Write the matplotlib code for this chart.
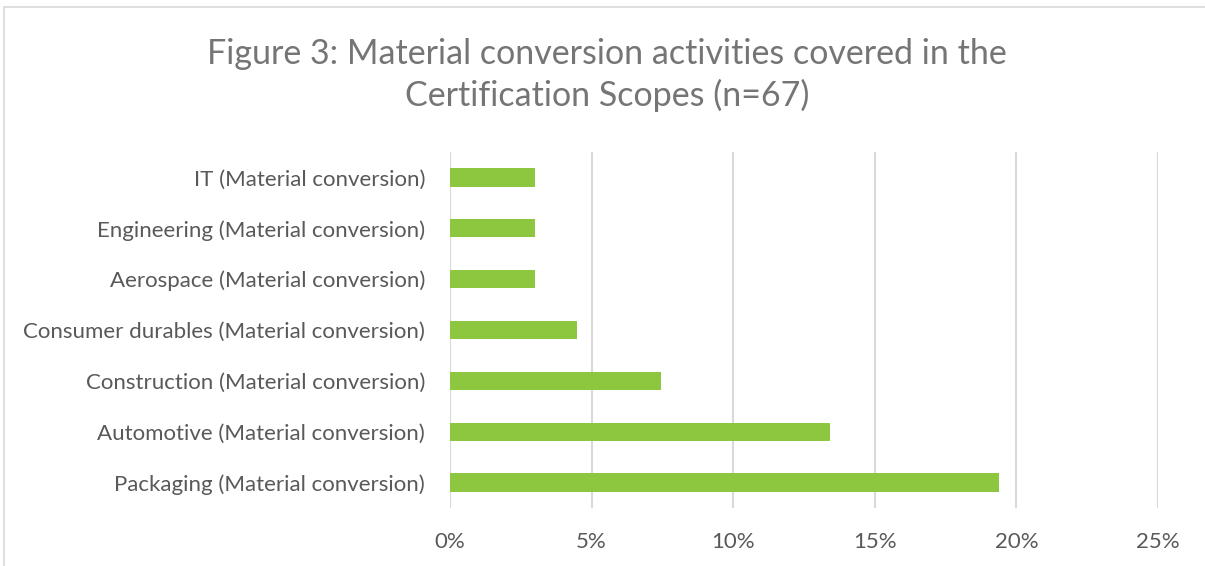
import matplotlib.pyplot as plt
from matplotlib.patches import Rectangle
from matplotlib.ticker import PercentFormatter

plt.rcParams['font.family'] = ['Lato', 'DejaVu Sans']

categories = ['Packaging (Material conversion)', 'Automotive (Material conversion)',
              'Construction (Material conversion)', 'Consumer durables (Material conversion)',
              'Aerospace (Material conversion)', 'Engineering (Material conversion)',
              'IT (Material conversion)']
counts = [13, 9, 5, 3, 2, 2, 2]
n_total = 67
shares = [c / n_total for c in counts]

fig = plt.figure(figsize=[12.05, 5.66], dpi=100)
ax = fig.add_axes([450 / 1205, 1 - 508 / 566, 708 / 1205, 356 / 566])

# chart frame
fig.patches.append(Rectangle((4 / 1205, -0.01), 1.2, 1 - 7 / 566 + 0.01, transform=fig.transFigure,
                             fill=False, edgecolor='#d9d9d9', linewidth=1.2))

ax.barh(range(len(categories)), shares, height=0.36, color='#8dc63f', zorder=3)
ax.set_yticks(range(len(categories)))
ax.set_yticklabels(categories)
ax.set_ylim(-0.5, len(categories) - 0.5)
ax.set_xlim(0, 0.25)
ax.set_xticks([0, 0.05, 0.10, 0.15, 0.20, 0.25])
ax.xaxis.set_major_formatter(PercentFormatter(1.0, decimals=0))
ax.grid(axis='x', color='#d9d9d9', linewidth=1.5, zorder=0)
for s in ax.spines.values():
    s.set_visible(False)
ax.tick_params(axis='both', length=0, labelsize=16, colors='#595959')
ax.tick_params(axis='y', pad=18)
ax.tick_params(axis='x', pad=17)

fig.text(607 / 1205, 1 - 75 / 566,
         'Figure 3: Material conversion activities covered in the\nCertification Scopes (n=67)',
         ha='center', va='center', fontsize=24.5, color='#757575', linespacing=1.3)

fig.savefig('out.png', dpi=100)
